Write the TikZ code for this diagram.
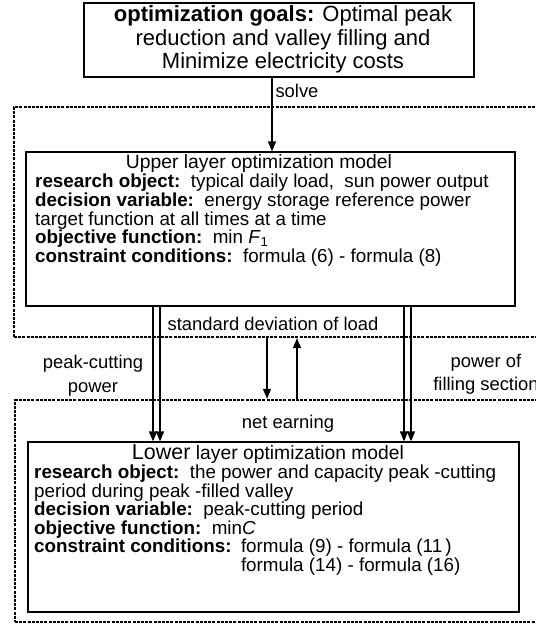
\documentclass[tikz,border=0pt]{standalone}
\usepackage{fontspec}
\setmainfont{Liberation Sans}
\usetikzlibrary{arrows.meta}
\begin{document}
\begin{tikzpicture}[x=1pt,y=-1pt,
  box/.style={draw,line width=1.2pt,inner sep=0pt,fill=white},
  dbox/.style={draw,line width=2.3pt,dash pattern=on 3pt off 1.2pt,inner sep=0pt},
  arr/.style={line width=1.3pt,-{Triangle[length=10pt,width=8pt]}},
  big/.style={anchor=base,inner sep=0pt,font=\fontsize{22}{24}\selectfont},
  ttl/.style={anchor=base,inner sep=0pt,font=\fontsize{19.3}{21}\selectfont},
  body/.style={anchor=base west,inner sep=0pt,font=\fontsize{18.8}{20}\selectfont},
  lbl/.style={anchor=base,inner sep=0pt,font=\fontsize{18.4}{20}\selectfont}]
\useasboundingbox (0,0) rectangle (536,633);
% dashed regions
\node[dbox,minimum width=536pt,minimum height=230pt] (ud) at (282,222) {};
\node[dbox,minimum width=535pt,minimum height=222pt] (ld) at (282.5,511) {};
% boxes
\node[box,minimum width=390pt,minimum height=74pt] (top) at (279,40) {};
\node[box,minimum width=489pt,minimum height=154pt] (upper) at (270.5,229) {};
\node[box,minimum width=491pt,minimum height=170pt] (lower) at (273.5,527) {};
% top text
\node[big] (t1) at (283,21) {\textbf{optimization goals:} Optimal peak};
\node[big] (t2) at (283,45) {reduction and valley filling and};
\node[big] (t3) at (283,68) {Minimize electricity costs};
% upper text
\node[ttl] (u0) at (259,168) {Upper layer optimization model};
\node[body] (u1) at (35,187.5) {\textbf{research object:}\ \ typical daily load,\ \ sun power output};
\node[body] (u2) at (35,206.5) {\textbf{decision variable:}\ \ energy storage reference power};
\node[body] (u3) at (35,225) {target function at all times at a time};
\node[body] (u4) at (35,243.5) {\textbf{objective function:}\ \ min \textit{F}\textsubscript{1}};
\node[body] (u5) at (35,262) {\textbf{constraint conditions:}\ \ formula (6) - formula (8)};
% lower text
\node[ttl] (l0) at (268,459) {{\fontsize{21.5}{23}\selectfont Lower} {\fontsize{19.3}{21}\selectfont layer optimization model}};
\node[body] (l1) at (34,478.5) {\textbf{research object:}\ \ the power and capacity peak -cutting};
\node[body] (l2) at (34,497) {period during peak -filled valley};
\node[body] (l3) at (34,515.5) {\textbf{decision variable:}\ \ peak-cutting period};
\node[body] (l4) at (34,534) {\textbf{objective function:}\ \ min\textit{C}};
\node[body] (l5) at (34,552.5) {\textbf{constraint conditions:}};
\node[body] (l5f) at ([xshift=9pt]l5.base east) {formula (9) - formula (11\,)};
\node[body] (l6) at ([yshift=-19pt]l5f.base west) {formula (14) - formula (16)};
% labels
\node[lbl] (solve) at (297,97) {solve};
\node[lbl] (sd) at (273,330) {standard deviation of load};
\node[lbl] (pc1) at (93,368) {peak-cutting};
\node[lbl] (pc2) at (93,392) {power};
\node[lbl] (pf1) at (486,367) {power of};
\node[lbl] (pf2) at (486,390) {filling section};
\node[lbl] (ne) at (288,428) {net earning};
% x positions
\coordinate (xs) at (272,0);
\coordinate (xa) at (153,0);
\coordinate (xb) at (160,0);
\coordinate (xc) at (404,0);
\coordinate (xd) at (411,0);
\coordinate (xdn) at (267,0);
\coordinate (xup) at (297,0);
% arrows
\draw[arr] (top.south -| xs) -- (upper.north -| xs);
\draw[arr] (upper.south -| xa) -- (lower.north -| xa);
\draw[arr] (upper.south -| xb) -- (lower.north -| xb);
\draw[arr] (upper.south -| xc) -- (lower.north -| xc);
\draw[arr] (upper.south -| xd) -- (lower.north -| xd);
\draw[arr] (ud.south -| xdn) -- (ld.north -| xdn);
\draw[arr] (ld.north -| xup) -- (ud.south -| xup);
\end{tikzpicture}
\end{document}
